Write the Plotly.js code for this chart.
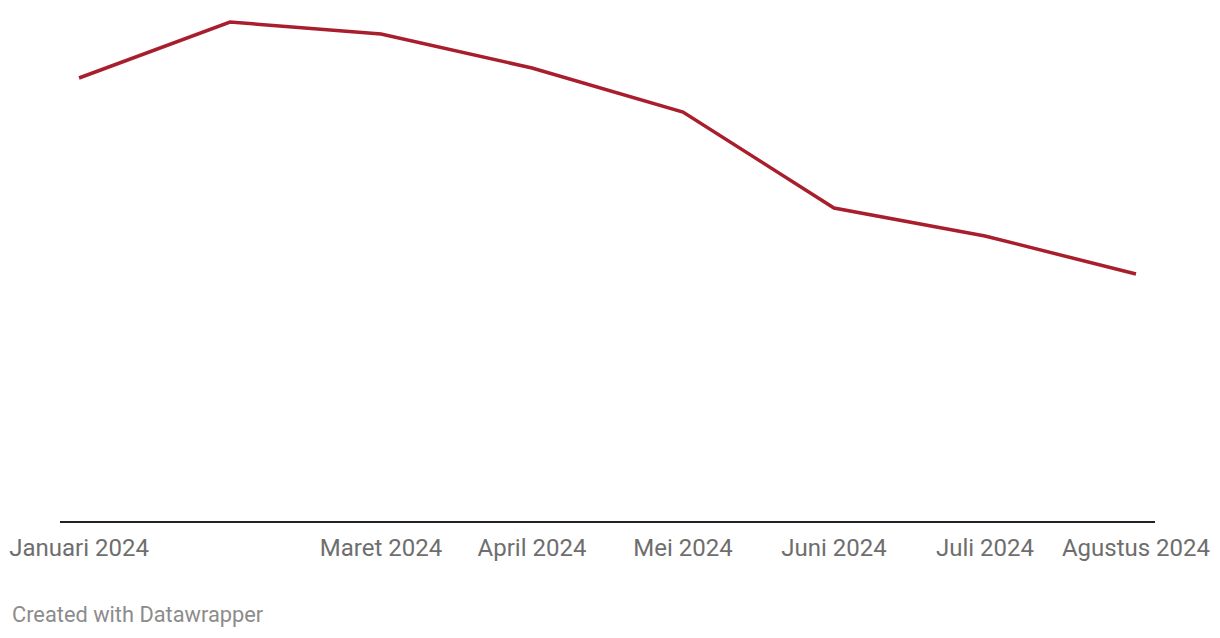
<!DOCTYPE html>
<html>
<head>
<meta charset="utf-8">
<script src="https://cdn.plot.ly/plotly-3.0.1.min.js"></script>
<style>
html,body{margin:0;padding:0;background:#fff;}
#chart{width:1220px;height:638px;}
</style>
</head>
<body>
<div id="chart"></div>
<script>
const months = ["Januari 2024","Februari 2024","Maret 2024","April 2024","Mei 2024","Juni 2024","Juli 2024","Agustus 2024"];
const values = [8.86, 9.98, 9.74, 9.06, 8.18, 6.26, 5.70, 4.94];
const tickLabels = ["Januari 2024","","Maret 2024","April 2024","Mei 2024","Juni 2024","Juli 2024","Agustus 2024"];

const idx = months.map((m,i)=>i);
const trace = {
  x: idx,
  y: values,
  type: "scatter",
  mode: "lines",
  line: {color: "#a91e2c", width: 3.5},
  text: months,
  hoverinfo: "text+y"
};
const layout = {
  width: 1220, height: 638,
  margin: {l: 60, r: 65, t: 10, b: 117},
  paper_bgcolor: "#fff", plot_bgcolor: "#fff",
  showlegend: false,
  font: {family: "Roboto, sans-serif"},
  xaxis: {
    range: [-0.126, 7.126],
    tickvals: idx,
    ticktext: tickLabels,
    showgrid: false, zeroline: false,
    showline: true, linecolor: "#222", linewidth: 2,
    ticks: "", ticklabelstandoff: 4,
    tickfont: {family: "Roboto, sans-serif", size: 24, color: "#6e6e6e"},
    fixedrange: true
  },
  yaxis: {
    range: [0, 10.22],
    visible: false, showgrid: false, zeroline: false,
    fixedrange: true
  },
  annotations: [{
    text: "Created with Datawrapper",
    xref: "paper", yref: "paper",
    x: -50/1095, y: -93/511,
    xanchor: "left", yanchor: "middle",
    showarrow: false,
    font: {family: "Roboto, sans-serif", size: 21.8, color: "#8c8c8c"}
  }]
};
Plotly.newPlot("chart", [trace], layout, {displayModeBar: false, staticPlot: true});
</script>
</body>
</html>
